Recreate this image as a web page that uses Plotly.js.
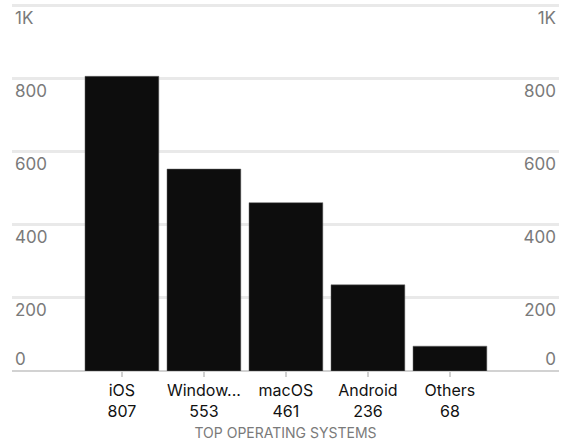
<!DOCTYPE html>
<html>
<head>
<meta charset="utf-8">
<script src="https://cdn.plot.ly/plotly-3.0.1.min.js"></script>
<style>html,body{margin:0;padding:0;background:#fff;}#chart{width:568px;height:444px;}</style>
</head>
<body>
<div id="chart"></div>
<script>
const categories = ["iOS", "Window...", "macOS", "Android", "Others"];
const values = [807, 553, 461, 236, 68];
const yTickVals = [200, 400, 600, 800, 1000];
const yTickText = ["200", "400", "600", "800", "1K"];
const yZeroVals = [0];
const yZeroText = ["0"];

const tickText = categories.map((c, i) => c + "<br>" + values[i]);
const FONT = "Inter, 'Open Sans', sans-serif";

const trace = {
  type: "bar",
  x: categories,
  y: values,
  marker: {color: "#0d0d0d", line: {color: "#666", width: 0.5}},
  hoverinfo: "skip"
};
function ghost(axis) {
  return {type: "bar", x: categories, y: values, yaxis: axis,
          marker: {color: "rgba(0,0,0,0)"}, hoverinfo: "skip", showlegend: false};
}

const RANGE = [0, 1005];
const yBase = {
  range: RANGE,
  tickfont: {family: FONT, size: 17, color: "#7a7a7a"},
  showline: false,
  ticks: "",
  fixedrange: true
};

const layout = {
  width: 568,
  height: 444,
  margin: {l: 12, r: 9, t: 4, b: 73},
  paper_bgcolor: "#fff",
  plot_bgcolor: "#fff",
  showlegend: false,
  bargap: 0.1,
  xaxis: {
    type: "category",
    range: [-1.34, 5.33],
    tickvals: categories,
    ticktext: tickText,
    tickfont: {family: FONT, size: 16, color: "#111"},
    ticks: "outside",
    ticklen: 5,
    tickwidth: 2,
    tickcolor: "#d0d0d0",
    showgrid: false,
    showline: false,
    title: {text: "TOP OPERATING SYSTEMS", font: {family: FONT, size: 14, color: "#7a7a7a"}, standoff: 8}
  },
  yaxis: Object.assign({}, yBase, {
    side: "left", tickvals: yTickVals, ticktext: yTickText,
    ticklabelposition: "inside bottom",
    showgrid: true, gridcolor: "#e9e9e9", gridwidth: 3,
    zeroline: false
  }),
  yaxis2: Object.assign({}, yBase, {
    side: "right", overlaying: "y", tickvals: yTickVals, ticktext: yTickText,
    ticklabelposition: "inside bottom", showgrid: false, zeroline: false
  }),
  yaxis3: Object.assign({}, yBase, {
    side: "left", overlaying: "y", tickvals: yZeroVals, ticktext: yZeroText,
    ticklabelposition: "inside top", showgrid: false,
    zeroline: true, zerolinecolor: "#d2d2d2", zerolinewidth: 2
  }),
  yaxis4: Object.assign({}, yBase, {
    side: "right", overlaying: "y", tickvals: yZeroVals, ticktext: yZeroText,
    ticklabelposition: "inside top", showgrid: false, zeroline: false
  })
};

Plotly.newPlot("chart", [trace, ghost("y2"), ghost("y3"), ghost("y4")], layout, {displayModeBar: false, staticPlot: true});
</script>
</body>
</html>
